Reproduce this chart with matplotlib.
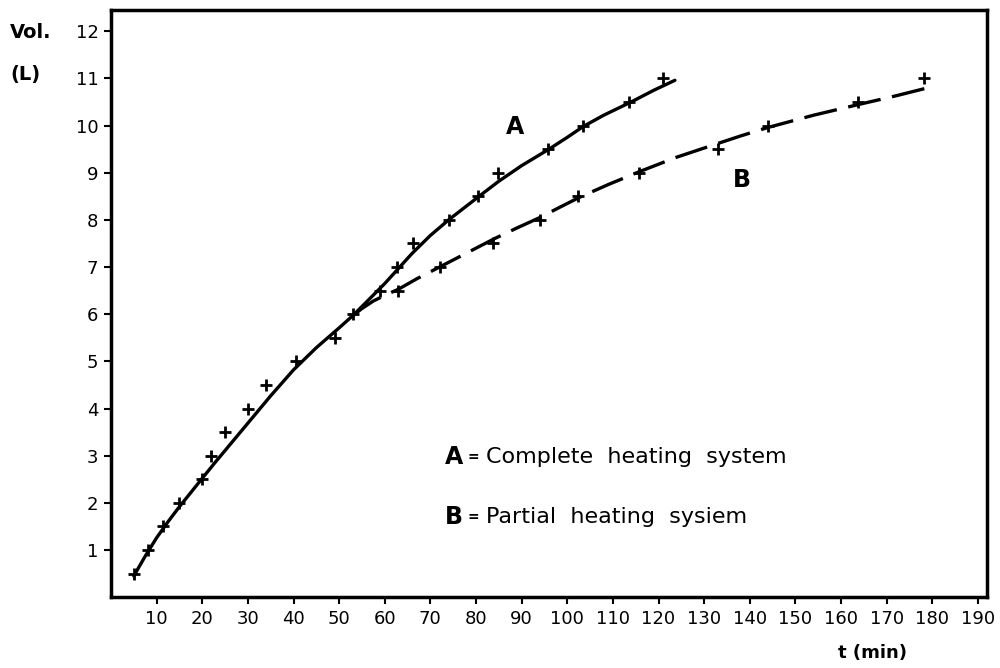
import matplotlib
matplotlib.use("Agg")
import matplotlib.pyplot as plt

# measured points (+ markers)
a_t = [5, 8, 11.5, 15, 20, 22, 25, 30, 34, 40.5, 49, 53, 59, 62.6, 66.2, 74, 80.4, 84.8, 95.8, 103.4, 113.5, 121]
a_v = [0.5, 1, 1.5, 2, 2.5, 3, 3.5, 4, 4.5, 5, 5.5, 6, 6.5, 7, 7.5, 8, 8.5, 9, 9.5, 10, 10.5, 11]
b_t = [63, 72, 83.8, 94, 102.4, 115.8, 133, 144, 163.7, 178.3]
b_v = [6.5, 7, 7.5, 8, 8.5, 9, 9.5, 10, 10.5, 11]

# hand-drawn curves
curve_a_t = [5, 7.5, 10, 12.5, 15, 17.5, 20, 22.5, 25, 27.5, 30, 35, 40, 45, 50, 53, 56, 60, 63,
             66, 70, 74, 80, 85, 90, 96, 100, 103.5, 108, 114, 119, 123.6]
curve_a_v = [0.45, 0.87, 1.26, 1.6, 1.92, 2.22, 2.52, 2.82, 3.11, 3.4, 3.69, 4.27, 4.82, 5.29, 5.71, 5.97,
             6.26, 6.65, 6.97, 7.29, 7.67, 8.0, 8.45, 8.82, 9.15, 9.5, 9.75, 9.98, 10.22, 10.5, 10.75, 10.96]
curve_b_t = [53, 55, 57.5, 60, 63, 67, 72, 78, 84, 89, 94, 98, 102.5, 109, 116, 124, 133, 138, 144,
             154, 164, 172, 179]
curve_b_v = [5.97, 6.12, 6.28, 6.4, 6.53, 6.75, 7.0, 7.3, 7.6, 7.83, 8.05, 8.25, 8.47, 8.75, 9.03, 9.33,
             9.62, 9.78, 9.96, 10.22, 10.45, 10.63, 10.8]

x_ticks = list(range(10, 200, 10))
y_ticks = list(range(1, 13))

fig = plt.figure(figsize=(10, 6.68), dpi=100)
ax = fig.add_axes([0.111, 0.106, 0.876, 0.879])

ax.plot(curve_a_t, curve_a_v, color="black", lw=2.4, solid_capstyle="round", solid_joinstyle="round")
ax.plot(curve_b_t, curve_b_v, color="black", lw=2.4, dashes=(10, 3.5))
ax.plot(a_t, a_v, ls="none", marker="+", ms=9, mew=2.0, color="black")
ax.plot(b_t, b_v, ls="none", marker="+", ms=9, mew=2.0, color="black")

ax.set_xlim(0, 192)
ax.set_ylim(0, 12.45)
ax.set_xticks(x_ticks)
ax.set_yticks(y_ticks)
ax.tick_params(direction="out", length=5, width=1.5, labelsize=13, pad=4)
for s in ax.spines.values():
    s.set_linewidth(2.5)

# curve labels
ax.text(88.5, 9.96, "A", fontsize=17, fontweight="bold", ha="center", va="center")
ax.text(138.3, 8.85, "B", fontsize=17, fontweight="bold", ha="center", va="center")

# key
ax.text(73.2, 2.98, "A", fontsize=17, fontweight="bold", ha="left", va="center")
ax.text(79.4, 2.98, "=", fontsize=10, fontweight="bold", ha="center", va="center")
ax.text(82.2, 2.98, "Complete  heating  system", fontsize=16, ha="left", va="center")
ax.text(73.2, 1.70, "B", fontsize=17, fontweight="bold", ha="left", va="center")
ax.text(79.4, 1.70, "=", fontsize=10, fontweight="bold", ha="center", va="center")
ax.text(82.2, 1.70, "Partial  heating  sysiem", fontsize=16, ha="left", va="center")

fig.text(0.01, 0.952, "Vol.", fontsize=14, fontweight="bold", ha="left", va="center")
fig.text(0.01, 0.888, "(L)", fontsize=14, fontweight="bold", ha="left", va="center")
fig.text(0.872, 0.022, "t (min)", fontsize=13, fontweight="bold", ha="center", va="center")

fig.savefig("out.png", dpi=100)
